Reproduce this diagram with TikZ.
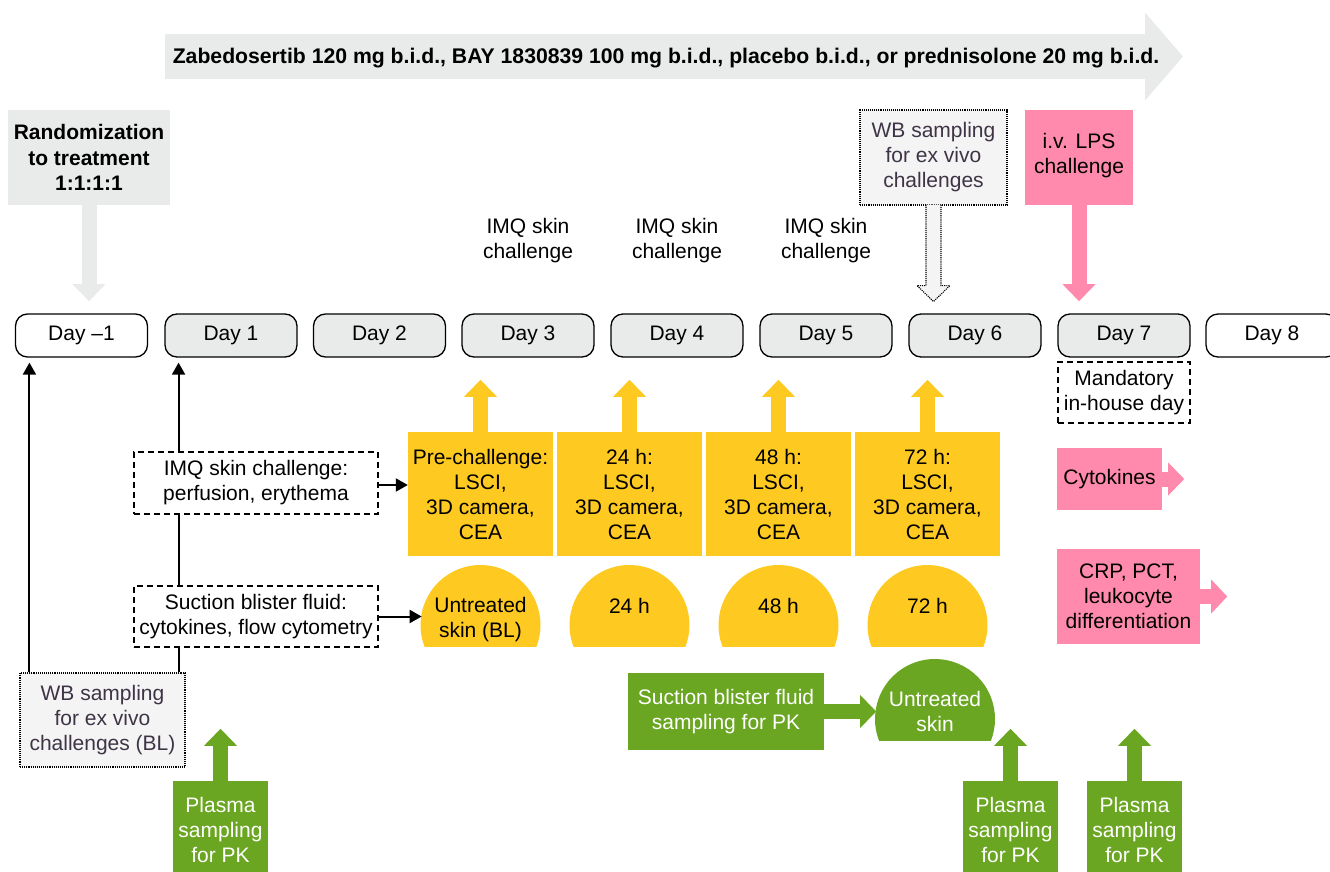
\documentclass[tikz,border=0pt]{standalone}
\usepackage{fontspec}
\setmainfont{Liberation Sans}
\usepackage{xcolor}
\usetikzlibrary{arrows.meta}
\usetikzlibrary{backgrounds}

\definecolor{daygrey}{RGB}{233,235,234}
\definecolor{wbfill}{RGB}{244,244,244}
\definecolor{wbtext}{RGB}{62,52,70}
\definecolor{skinyellow}{RGB}{254,201,32}
\definecolor{pkgreen}{RGB}{106,166,33}
\definecolor{lpspink}{RGB}{255,138,173}

\tikzset{
  day/.style={draw,line width=1.3pt,rounded corners=12pt,minimum width=132pt,minimum height=43pt,fill=daygrey},
  dayoff/.style={day,fill=white},
  dashbox/.style={draw,dash pattern=on 6pt off 4pt,line width=1.3pt,fill=white},
  wbbox/.style={draw,densely dotted,line width=1.1pt,fill=wbfill,text=wbtext},
  measure/.style={fill=skinyellow,minimum width=145pt,minimum height=124pt},
  pkbox/.style={fill=pkgreen,text=white},
  lpsbox/.style={fill=lpspink},
  fat/.style={line width=15pt,-{Triangle[width=33pt,length=17pt,line width=0pt]}},
  thin/.style={->,line width=2pt},
}

\begin{document}
\begin{tikzpicture}[x=1pt,y=-1pt,>={Triangle[length=12pt,width=13pt]},every node/.style={font=\fontsize{21}{25}\selectfont,align=center,inner sep=0pt}]
\useasboundingbox (0,0) rectangle (1330,872);

\coordinate (treatstart) at (165,56.5);
\coordinate (treatend) at (1183,56.5);
\draw[daygrey,line width=45pt,-{Triangle[width=88pt,length=38pt,line width=0pt]}] (treatstart) -- (treatend);
\node[font=\fontsize{21.2}{25}\selectfont\bfseries] (treat) at (666,58) {Zabedosertib 120 mg b.i.d., BAY 1830839 100 mg b.i.d., placebo b.i.d., or prednisolone 20 mg b.i.d.};

\node[fill=daygrey,minimum width=162pt,minimum height=95pt,font=\fontsize{21}{25.5}\selectfont\bfseries] (rand) at (89,157.5) {Randomization\\to treatment\\1:1:1:1};
\draw[fat,daygrey] (rand.south) -- ++(0,96);

\node[wbbox,minimum width=147pt,minimum height=95pt] (wbsix) at (933.5,157.5) {WB sampling\\for ex vivo\\challenges};
\draw[densely dotted,line width=1.1pt,fill=wbfill] ([xshift=-7.5pt,yshift=1pt]wbsix.south) -- ++(0,81) -- ++(-9,0) -- ++(16.5,16) -- ++(16.5,-16) -- ++(-9,0) -- ([xshift=7.5pt,yshift=1pt]wbsix.south);

\node[lpsbox,minimum width=108pt,minimum height=95pt] (lps) at (1079,157.5) {i.v. LPS\\challenge\\[-17pt]};
\draw[fat,lpspink] (lps.south) -- ++(0,96);

\node (imqthree) at (528,241) {IMQ skin\\challenge};
\node (imqfour) at (677,241) {IMQ skin\\challenge};
\node (imqfive) at (826,241) {IMQ skin\\challenge};

\node[dayoff] (dayminus) at (81.5,335.5) {Day --1};
\node[day] (dayone) at (231,335.5) {Day 1};
\node[day] (daytwo) at (379.5,335.5) {Day 2};
\node[day] (daythree) at (528,335.5) {Day 3};
\node[day] (dayfour) at (677,335.5) {Day 4};
\node[day] (dayfive) at (826,335.5) {Day 5};
\node[day] (daysix) at (975,335.5) {Day 6};
\node[day] (dayseven) at (1124,335.5) {Day 7};
\node[dayoff] (dayeight) at (1272,335.5) {Day 8};

\node[dashbox,minimum width=132pt,minimum height=61pt] (inhouse) at (1124,392.5) {Mandatory\\in-house day};

\node[measure] (measthree) at (480.5,494) {Pre-challenge:\\LSCI,\\3D camera,\\CEA};
\node[measure] (measfour) at (629.5,494) {24 h:\\LSCI,\\3D camera,\\CEA};
\node[measure] (measfive) at (778.5,494) {48 h:\\LSCI,\\3D camera,\\CEA};
\node[measure] (meassix) at (927.5,494) {72 h:\\LSCI,\\3D camera,\\CEA};
\draw[fat,skinyellow] (measthree.north) -- ++(0,-52);
\draw[fat,skinyellow] (measfour.north) -- ++(0,-52);
\draw[fat,skinyellow] (measfive.north) -- ++(0,-52);
\draw[fat,skinyellow] (meassix.north) -- ++(0,-52);

\fill[skinyellow] (480.5,625) ++(158.5:60) arc[start angle=158.5,end angle=381.5,radius=60] -- cycle;
\fill[skinyellow] (629.5,625) ++(158.5:60) arc[start angle=158.5,end angle=381.5,radius=60] -- cycle;
\fill[skinyellow] (778.5,625) ++(158.5:60) arc[start angle=158.5,end angle=381.5,radius=60] -- cycle;
\fill[skinyellow] (927.5,625) ++(158.5:60) arc[start angle=158.5,end angle=381.5,radius=60] -- cycle;
\node (skinbl) at (480.5,620) {Untreated\\skin (BL)};
\node (skinfour) at (629.5,606) {24 h};
\node (skinfive) at (778.5,606) {48 h};
\node (skinsix) at (927.5,606) {72 h};

\node[dashbox,minimum width=244pt,minimum height=62pt] (imqbox) at (256,483) {IMQ skin challenge:\\perfusion, erythema};
\node[dashbox,minimum width=244pt,minimum height=61pt] (suctbox) at (256,616.5) {Suction blister fluid:\\cytokines, flow cytometry};
\draw[thin] ([yshift=-2pt]imqbox.east) -- ([yshift=-2pt]imqbox.east -| measthree.west);
\draw[thin] (suctbox.east) -- ++(43,0);

\node[wbbox,minimum width=165pt,minimum height=94pt] (wbbl) at (102.5,720) {WB sampling\\for ex vivo\\challenges (BL)};
\begin{scope}[on background layer]
\draw[thin,shorten >=5pt] ([xshift=10pt]wbbl.north west) -- ([xshift=10pt]wbbl.north west |- dayminus.south);
\draw[thin,shorten >=5pt] ([xshift=-7pt]wbbl.north east) -- ([xshift=-7pt]wbbl.north east |- dayone.south);
\end{scope}

\node[pkbox,minimum width=196pt,minimum height=77pt] (sbfpk) at (726,711.5) {Suction blister fluid\\sampling for PK};
\draw[fat,pkgreen,-{Triangle[width=33pt,length=16pt,line width=0pt]}] (sbfpk.east) -- ++(52,0);
\fill[pkgreen] (935,719) ++(158.5:60) arc[start angle=158.5,end angle=381.5,radius=60] -- cycle;
\node[text=white] (skinpk) at (935,711) {Untreated\\skin};

\node[pkbox,minimum width=95pt,minimum height=98pt] (plasmaone) at (220.5,830) {Plasma\\sampling\\for PK};
\node[pkbox,minimum width=95pt,minimum height=98pt] (plasmasix) at (1010.5,830) {Plasma\\sampling\\for PK};
\node[pkbox,minimum width=95pt,minimum height=98pt] (plasmaseven) at (1134.5,830) {Plasma\\sampling\\for PK};
\draw[fat,pkgreen] (plasmaone.north) -- ++(0,-52);
\draw[fat,pkgreen] (plasmasix.north) -- ++(0,-52);
\draw[fat,pkgreen] (plasmaseven.north) -- ++(0,-52);

\node[lpsbox,minimum width=105pt,minimum height=62pt] (cyto) at (1109.5,479) {Cytokines};
\node[lpsbox,minimum width=143pt,minimum height=95pt] (crp) at (1128.5,596.5) {CRP, PCT,\\leukocyte\\differentiation};
\draw[fat,lpspink,-{Triangle[width=33pt,length=16pt,line width=0pt]}] (cyto.east) -- ++(22,0);
\draw[fat,lpspink,-{Triangle[width=34pt,length=16pt,line width=0pt]}] (crp.east) -- ++(27,0);
\end{tikzpicture}
\end{document}
